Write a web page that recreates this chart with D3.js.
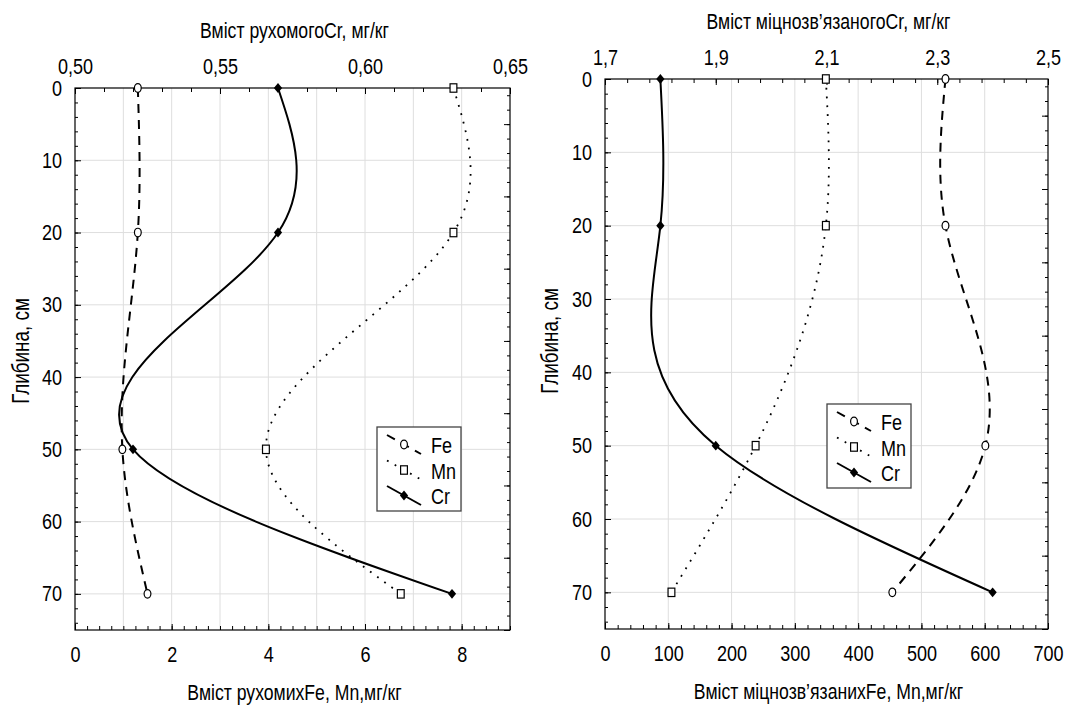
<!DOCTYPE html>
<html><head><meta charset="utf-8">
<script src="https://cdn.jsdelivr.net/npm/d3@7"></script>
<style>body{margin:0;background:#fff} svg{display:block}</style>
</head><body><svg id="c" width="1070" height="705"></svg>
<script>
// ---------------- data ----------------
const depths = [0, 20, 50, 70];
const depthTicks = [0, 10, 20, 30, 40, 50, 60, 70];
const seriesNames = ["Fe", "Mn", "Cr"];

// left panel: mobile forms
const feMobile = [1.30, 1.30, 0.98, 1.50];
const mnMobile = [7.83, 7.83, 3.95, 6.74];
const crMobile = [0.570, 0.570, 0.520, 0.630];
const mobileBottomTicks = [0, 2, 4, 6, 8];
const mobileTopTicks = [0.50, 0.55, 0.60, 0.65];

// right panel: strongly bound forms
const feBound = [538, 538, 601, 454];
const mnBound = [349, 349, 238, 105];
const crBound = [1.80, 1.80, 1.90, 2.40];
const boundBottomTicks = [0, 100, 200, 300, 400, 500, 600, 700];
const boundTopTicks = [1.7, 1.9, 2.1, 2.3, 2.5];

const titles = {
  mobileTop: "Вміст рухомогоCr, мг/кг",
  mobileBottom: "Вміст рухомихFe, Mn,мг/кг",
  boundTop: "Вміст міцнозв’язаногоCr, мг/кг",
  boundBottom: "Вміст міцнозв’язанихFe, Mn,мг/кг",
  depth: "Глибина, см"
};

// ---------------- font ----------------
function hasFont(name){
  const c = document.createElement('canvas').getContext('2d');
  const t = 'mmmmmmmmmmlli WWW 0123 Вміст';
  c.font = '40px monospace'; const a = c.measureText(t).width;
  c.font = `40px "${name}", monospace`; const b = c.measureText(t).width;
  return a !== b;
}
const narrow = hasFont('Liberation Sans Narrow') ? 'Liberation Sans Narrow' : (hasFont('Arial Narrow') ? 'Arial Narrow' : null);
const FONT = narrow ? `"${narrow}", sans-serif` : '"Liberation Sans", Arial, sans-serif';
const SX = narrow ? 1 : 0.82;
const FS = 22;      // tick labels, legend
const FS_T = 21.5;  // axis titles
const FS_D = 23;    // depth title

// ---------------- spline curve: x as natural cubic spline of y ----------------
function curveSplineY(context){
  return {
    areaStart(){}, areaEnd(){},
    lineStart(){ this._x = []; this._y = []; },
    point(x, y){ this._x.push(+x); this._y.push(+y); },
    lineEnd(){
      const xs = this._x, ys = this._y, n = xs.length;
      if (!n) return;
      context.moveTo(xs[0], ys[0]);
      if (n === 1) return;
      if (n === 2){ context.lineTo(xs[1], ys[1]); return; }
      const h = []; for (let i = 0; i < n - 1; i++) h.push(ys[i+1] - ys[i]);
      const m = n - 2, a = [], b = [], c = [], r = [];
      for (let k = 0; k < m; k++){
        const i = k + 1;
        a.push(h[i-1]); b.push(2 * (h[i-1] + h[i])); c.push(h[i]);
        r.push(6 * ((xs[i+1] - xs[i]) / h[i] - (xs[i] - xs[i-1]) / h[i-1]));
      }
      const cp = [], rp = [];
      for (let k = 0; k < m; k++){
        const den = b[k] - (k ? a[k] * cp[k-1] : 0);
        cp.push(c[k] / den);
        rp.push((r[k] - (k ? a[k] * rp[k-1] : 0)) / den);
      }
      const M = new Array(n).fill(0);
      for (let k = m - 1; k >= 0; k--) M[k+1] = rp[k] - cp[k] * (k + 1 < m ? M[k+2] : 0);
      for (let i = 0; i < n - 1; i++){
        const hi = h[i], s = (xs[i+1] - xs[i]) / hi;
        const d0 = s - hi * (2 * M[i] + M[i+1]) / 6;
        const d1 = s + hi * (M[i] + 2 * M[i+1]) / 6;
        context.bezierCurveTo(xs[i] + d0 * hi / 3, ys[i] + hi / 3,
                              xs[i+1] - d1 * hi / 3, ys[i+1] - hi / 3,
                              xs[i+1], ys[i+1]);
      }
    }
  };
}

// ---------------- panels ----------------
const panels = [
  { x0: 75, x1: 510, y0: 88, y1: 630,
    bDomain: [0, 9], bTicks: mobileBottomTicks, bMinor: d3.range(0, 37).map(v => v / 4), bGrid: d3.range(1, 9),
    bFmt: d => String(d),
    tDomain: [0.50, 0.65], tTicks: mobileTopTicks, tMinor: d3.range(50, 66).map(v => v / 100),
    tFmt: d => d.toFixed(2).replace('.', ','),
    fe: feMobile, mn: mnMobile, cr: crMobile,
    topTitle: titles.mobileTop, bottomTitle: titles.mobileBottom,
    yTitleX: 21, yTitleY: 351, legend: [377, 427] },
  { x0: 605, x1: 1048, y0: 79, y1: 629,
    bDomain: [0, 700], bTicks: boundBottomTicks, bMinor: d3.range(0, 701, 20), bGrid: d3.range(100, 700, 100),
    bFmt: d => String(d),
    tDomain: [1.7, 2.5], tTicks: boundTopTicks, tMinor: d3.range(0, 21).map(v => 1.7 + v * 0.04),
    tFmt: d => d.toFixed(1).replace('.', ','),
    fe: feBound, mn: mnBound, cr: crBound,
    topTitle: titles.boundTop, bottomTitle: titles.boundBottom,
    yTitleX: 550, yTitleY: 341, legend: [827, 404] }
];

const svg = d3.select('#c');

function fixText(g){
  g.selectAll('text').each(function(){
    const t = d3.select(this);
    const x = +t.attr('x') || 0, y = +t.attr('y') || 0;
    t.attr('x', 0).attr('y', 0)
     .attr('transform', `translate(${x},${y}) scale(${SX},1)`)
     .attr('font-family', FONT).attr('font-size', FS).attr('fill', '#000');
  });
}
function label(g, x, y, s, anchor, rot, fs){
  return g.append('text')
    .attr('transform', `translate(${x},${y})${rot ? ' rotate(-90)' : ''} scale(${SX},1)`)
    .attr('text-anchor', anchor).attr('font-family', FONT).attr('font-size', fs || FS)
    .attr('fill', '#000').text(s);
}

const styles = {
  Fe: { dash: '9,7', width: 2 },
  Mn: { dash: '1.8,7', width: 1.8 },
  Cr: { dash: null, width: 2 }
};

function marker(g, name, x, y){
  if (name === 'Fe'){
    g.append('ellipse').attr('cx', x).attr('cy', y).attr('rx', 3.4).attr('ry', 4.3)
      .attr('fill', '#fff').attr('stroke', '#000').attr('stroke-width', 1.2);
  } else if (name === 'Mn'){
    g.append('rect').attr('x', x - 3.4).attr('y', y - 4.2).attr('width', 6.8).attr('height', 8.4)
      .attr('fill', '#fff').attr('stroke', '#000').attr('stroke-width', 1.2);
  } else {
    g.append('path').attr('d', d3.symbol(d3.symbolSquare, 40)())
      .attr('transform', `translate(${x},${y}) scale(0.92,1.1) rotate(45)`).attr('fill', '#000');
  }
}

panels.forEach(p => {
  const g = svg.append('g');
  const xb = d3.scaleLinear().domain(p.bDomain).range([p.x0, p.x1]);
  const xt = d3.scaleLinear().domain(p.tDomain).range([p.x0, p.x1]);
  const y = d3.scaleLinear().domain([0, 75]).range([p.y0, p.y1]);

  // grid
  g.append('g').selectAll('line').data(p.bGrid).join('line')
    .attr('x1', d => xb(d)).attr('x2', d => xb(d)).attr('y1', p.y0).attr('y2', p.y1)
    .attr('stroke', '#dedede').attr('stroke-width', 1);
  g.append('g').selectAll('line').data(depthTicks.slice(1)).join('line')
    .attr('x1', p.x0).attr('x2', p.x1).attr('y1', d => y(d)).attr('y2', d => y(d))
    .attr('stroke', '#dedede').attr('stroke-width', 1);

  // inside ticks
  const tickAxis = (axis, vals, len, tr) => {
    const a = g.append('g').attr('transform', tr)
      .call(axis.tickValues(vals).tickSize(-len).tickFormat(''));
    a.select('.domain').remove();
    a.selectAll('line').attr('stroke', '#000').attr('stroke-width', 1);
  };
  tickAxis(d3.axisBottom(xb), p.bMinor, 4, `translate(0,${p.y1})`);
  tickAxis(d3.axisBottom(xb), p.bTicks, 6, `translate(0,${p.y1})`);
  tickAxis(d3.axisTop(xt), p.tMinor, 4, `translate(0,${p.y0})`);
  tickAxis(d3.axisTop(xt), p.tTicks, 6, `translate(0,${p.y0})`);
  tickAxis(d3.axisLeft(y), d3.range(0, 76, 2), 3, `translate(${p.x0},0)`);
  tickAxis(d3.axisLeft(y), depthTicks, 6, `translate(${p.x0},0)`);
  tickAxis(d3.axisRight(y), d3.range(1, 76, 2), 3, `translate(${p.x1},0)`);
  tickAxis(d3.axisRight(y), d3.range(5, 76, 10), 6, `translate(${p.x1},0)`);

  // labels via axes
  const lab = (axis, vals, fmt, pad, tr) => {
    const a = g.append('g').attr('transform', tr)
      .call(axis.tickValues(vals).tickSize(0).tickPadding(pad).tickFormat(fmt));
    a.select('.domain').remove();
    fixText(a);
  };
  lab(d3.axisBottom(xb), p.bTicks, p.bFmt, 16, `translate(0,${p.y1})`);
  lab(d3.axisTop(xt), p.tTicks, p.tFmt, 14.5, `translate(0,${p.y0})`);
  lab(d3.axisLeft(y), depthTicks, d => String(d), 13, `translate(${p.x0},0)`);

  // frame
  g.append('rect').attr('x', p.x0).attr('y', p.y0).attr('width', p.x1 - p.x0).attr('height', p.y1 - p.y0)
    .attr('fill', 'none').attr('stroke', '#000').attr('stroke-width', 1.2);

  // titles
  const cx = (p.x0 + p.x1) / 2 + 2;
  label(g, cx, p.y0 - 50, p.topTitle, 'middle', false, FS_T);
  label(g, cx, p.y1 + 70, p.bottomTitle, 'middle', false, FS_T);
  label(g, p.yTitleX + 8, p.yTitleY, titles.depth, 'middle', true, FS_D);

  // series
  const series = [
    { name: 'Fe', vals: p.fe, sx: xb },
    { name: 'Mn', vals: p.mn, sx: xb },
    { name: 'Cr', vals: p.cr, sx: xt }
  ];
  series.forEach(s => {
    const line = d3.line().x(d => s.sx(d[0])).y(d => y(d[1])).curve(curveSplineY);
    g.append('path').datum(s.vals.map((v, i) => [v, depths[i]]))
      .attr('d', line).attr('fill', 'none').attr('stroke', '#000')
      .attr('stroke-width', styles[s.name].width)
      .attr('stroke-dasharray', styles[s.name].dash);
  });
  series.forEach(s => {
    s.vals.forEach((v, i) => marker(g, s.name, s.sx(v), y(depths[i])));
  });

  // legend
  const [bx, by] = p.legend;
  const lg = g.append('g');
  lg.append('rect').attr('x', bx).attr('y', by).attr('width', 84).attr('height', 84)
    .attr('fill', '#fff').attr('stroke', '#444').attr('stroke-width', 1.3);
  seriesNames.forEach((name, i) => {
    const cy = by + 18 + i * 25.5;
    lg.append('line').attr('x1', bx + 10).attr('y1', cy - 10).attr('x2', bx + 44).attr('y2', cy + 9)
      .attr('stroke', '#000').attr('stroke-width', styles[name].width)
      .attr('stroke-dasharray', styles[name].dash);
    marker(lg, name, bx + 27, cy - 0.5);
    label(lg, bx + 54, cy + 8, name, 'start');
  });
});
</script></body></html>
